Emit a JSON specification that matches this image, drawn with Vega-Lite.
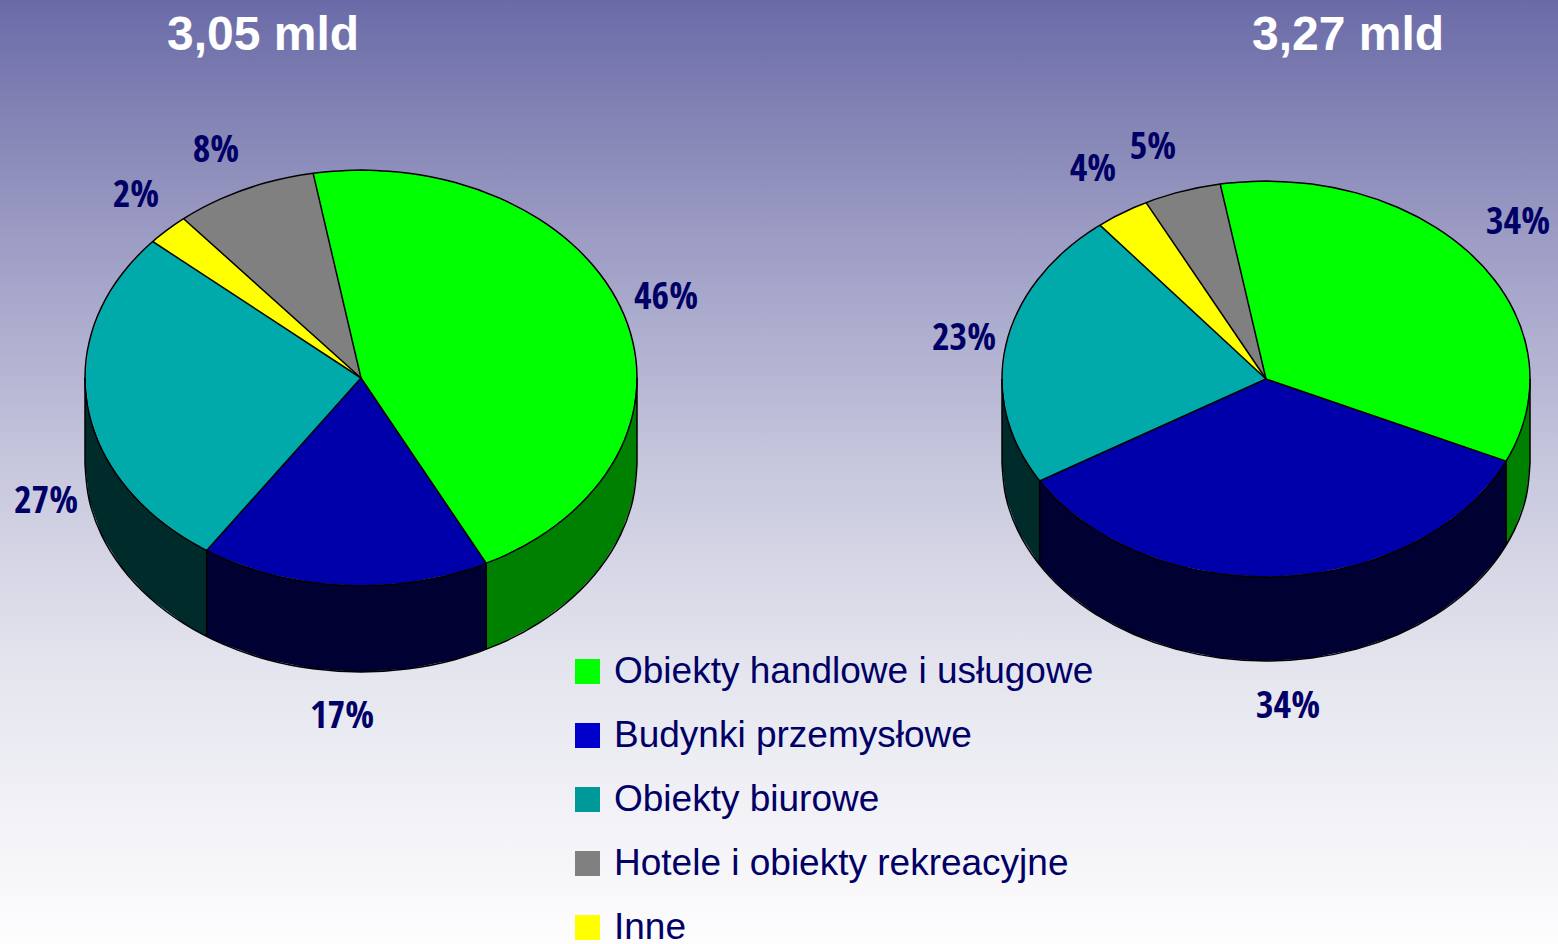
{
"$schema":"https://vega.github.io/schema/vega-lite/v6.json",
"width":1558,"height":944,"padding":0,"autosize":{"type":"none"},
"background":"#ffffff",
"config":{"view":{"stroke":null},"font":"Liberation Sans"},
"datasets":{
"frame":[{"x0":0,"x1":1558,"y0":0,"y1":944}],
"categories":[{"category":"Obiekty handlowe i usługowe"},{"category":"Budynki przemysłowe"},{"category":"Obiekty biurowe"},{"category":"Hotele i obiekty rekreacyjne"},{"category":"Inne"}],
"shares":[
{"label":"46%","x":666,"y":298},{"label":"17%","x":342,"y":717},{"label":"27%","x":46,"y":502},{"label":"8%","x":216,"y":151},{"label":"2%","x":136,"y":196},
{"label":"34%","x":1518,"y":223},{"label":"34%","x":1288,"y":707},{"label":"23%","x":964,"y":339},{"label":"5%","x":1153,"y":148},{"label":"4%","x":1093,"y":170}],
"totals":[{"label":"3,05 mld","x":263,"y":36},{"label":"3,27 mld","x":1348,"y":36}],
"edges":[
{"x":361,"y":378,"xEnd":313.1,"yEnd":173.2},{"x":361,"y":378,"xEnd":486.3,"yEnd":563.3},{"x":361,"y":378,"xEnd":206.7,"yEnd":550.4},{"x":361,"y":378,"xEnd":152.7,"yEnd":241.5},{"x":361,"y":378,"xEnd":183.6,"yEnd":218.7},
{"x":486.3,"y":563.3,"xEnd":486.3,"yEnd":649.3},{"x":206.7,"y":550.4,"xEnd":206.7,"yEnd":636.4},{"x":637,"y":378,"xEnd":637,"yEnd":464},{"x":85,"y":378,"xEnd":85,"yEnd":464},
{"x":1266,"y":379,"xEnd":1220.2,"yEnd":184},{"x":1266,"y":379,"xEnd":1506.2,"yEnd":461.1},{"x":1266,"y":379,"xEnd":1039.7,"yEnd":481},{"x":1266,"y":379,"xEnd":1099.9,"yEnd":225.1},{"x":1266,"y":379,"xEnd":1146.1,"yEnd":202.6},
{"x":1506.2,"y":461.1,"xEnd":1506.2,"yEnd":545.1},{"x":1039.7,"y":481,"xEnd":1039.7,"yEnd":565},{"x":1530,"y":379,"xEnd":1530,"yEnd":463},{"x":1002,"y":379,"xEnd":1002,"yEnd":463}],
"rims":[
{"rim":"at","n":1,"x":361,"y":170},{"rim":"at","n":2,"x":408.9,"y":173.2},{"rim":"at","n":3,"x":455.4,"y":182.5},{"rim":"at","n":4,"x":499,"y":197.9},{"rim":"at","n":5,"x":538.4,"y":218.7},{"rim":"at","n":6,"x":572.4,"y":244.3},{"rim":"at","n":7,"x":600,"y":274},{"rim":"at","n":8,"x":620.4,"y":306.9},{"rim":"at","n":9,"x":632.8,"y":341.9},{"rim":"at","n":10,"x":637,"y":378},{"rim":"at","n":11,"x":632.8,"y":414.1},{"rim":"at","n":12,"x":620.4,"y":449.1},{"rim":"at","n":13,"x":600,"y":482},{"rim":"at","n":14,"x":572.4,"y":511.7},{"rim":"at","n":15,"x":538.4,"y":537.3},{"rim":"at","n":16,"x":499,"y":558.1},{"rim":"at","n":17,"x":455.4,"y":573.5},{"rim":"at","n":18,"x":408.9,"y":582.8},{"rim":"at","n":19,"x":361,"y":586},{"rim":"at","n":20,"x":313.1,"y":582.8},{"rim":"at","n":21,"x":266.6,"y":573.5},{"rim":"at","n":22,"x":223,"y":558.1},{"rim":"at","n":23,"x":183.6,"y":537.3},{"rim":"at","n":24,"x":149.6,"y":511.7},{"rim":"at","n":25,"x":122,"y":482},{"rim":"at","n":26,"x":101.6,"y":449.1},{"rim":"at","n":27,"x":89.2,"y":414.1},{"rim":"at","n":28,"x":85,"y":378},{"rim":"at","n":29,"x":89.2,"y":341.9},{"rim":"at","n":30,"x":101.6,"y":306.9},{"rim":"at","n":31,"x":122,"y":274},{"rim":"at","n":32,"x":149.6,"y":244.3},{"rim":"at","n":33,"x":183.6,"y":218.7},{"rim":"at","n":34,"x":223,"y":197.9},{"rim":"at","n":35,"x":266.6,"y":182.5},{"rim":"at","n":36,"x":313.1,"y":173.2},{"rim":"at","n":37,"x":361,"y":170},
{"rim":"ab","n":1,"x":637,"y":464},{"rim":"ab","n":2,"x":632.8,"y":500.1},{"rim":"ab","n":3,"x":620.4,"y":535.1},{"rim":"ab","n":4,"x":600,"y":568},{"rim":"ab","n":5,"x":572.4,"y":597.7},{"rim":"ab","n":6,"x":538.4,"y":623.3},{"rim":"ab","n":7,"x":499,"y":644.1},{"rim":"ab","n":8,"x":455.4,"y":659.5},{"rim":"ab","n":9,"x":408.9,"y":668.8},{"rim":"ab","n":10,"x":361,"y":672},{"rim":"ab","n":11,"x":313.1,"y":668.8},{"rim":"ab","n":12,"x":266.6,"y":659.5},{"rim":"ab","n":13,"x":223,"y":644.1},{"rim":"ab","n":14,"x":183.6,"y":623.3},{"rim":"ab","n":15,"x":149.6,"y":597.7},{"rim":"ab","n":16,"x":122,"y":568},{"rim":"ab","n":17,"x":101.6,"y":535.1},{"rim":"ab","n":18,"x":89.2,"y":500.1},{"rim":"ab","n":19,"x":85,"y":464},
{"rim":"bt","n":1,"x":1266,"y":181},{"rim":"bt","n":2,"x":1311.8,"y":184},{"rim":"bt","n":3,"x":1356.3,"y":192.9},{"rim":"bt","n":4,"x":1398,"y":207.5},{"rim":"bt","n":5,"x":1435.7,"y":227.3},{"rim":"bt","n":6,"x":1468.2,"y":251.7},{"rim":"bt","n":7,"x":1494.6,"y":280},{"rim":"bt","n":8,"x":1514.1,"y":311.3},{"rim":"bt","n":9,"x":1526,"y":344.6},{"rim":"bt","n":10,"x":1530,"y":379},{"rim":"bt","n":11,"x":1526,"y":413.4},{"rim":"bt","n":12,"x":1514.1,"y":446.7},{"rim":"bt","n":13,"x":1494.6,"y":478},{"rim":"bt","n":14,"x":1468.2,"y":506.3},{"rim":"bt","n":15,"x":1435.7,"y":530.7},{"rim":"bt","n":16,"x":1398,"y":550.5},{"rim":"bt","n":17,"x":1356.3,"y":565.1},{"rim":"bt","n":18,"x":1311.8,"y":574},{"rim":"bt","n":19,"x":1266,"y":577},{"rim":"bt","n":20,"x":1220.2,"y":574},{"rim":"bt","n":21,"x":1175.7,"y":565.1},{"rim":"bt","n":22,"x":1134,"y":550.5},{"rim":"bt","n":23,"x":1096.3,"y":530.7},{"rim":"bt","n":24,"x":1063.8,"y":506.3},{"rim":"bt","n":25,"x":1037.4,"y":478},{"rim":"bt","n":26,"x":1017.9,"y":446.7},{"rim":"bt","n":27,"x":1006,"y":413.4},{"rim":"bt","n":28,"x":1002,"y":379},{"rim":"bt","n":29,"x":1006,"y":344.6},{"rim":"bt","n":30,"x":1017.9,"y":311.3},{"rim":"bt","n":31,"x":1037.4,"y":280},{"rim":"bt","n":32,"x":1063.8,"y":251.7},{"rim":"bt","n":33,"x":1096.3,"y":227.3},{"rim":"bt","n":34,"x":1134,"y":207.5},{"rim":"bt","n":35,"x":1175.7,"y":192.9},{"rim":"bt","n":36,"x":1220.2,"y":184},{"rim":"bt","n":37,"x":1266,"y":181},
{"rim":"bb","n":1,"x":1530,"y":463},{"rim":"bb","n":2,"x":1526,"y":497.4},{"rim":"bb","n":3,"x":1514.1,"y":530.7},{"rim":"bb","n":4,"x":1494.6,"y":562},{"rim":"bb","n":5,"x":1468.2,"y":590.3},{"rim":"bb","n":6,"x":1435.7,"y":614.7},{"rim":"bb","n":7,"x":1398,"y":634.5},{"rim":"bb","n":8,"x":1356.3,"y":649.1},{"rim":"bb","n":9,"x":1311.8,"y":658},{"rim":"bb","n":10,"x":1266,"y":661},{"rim":"bb","n":11,"x":1220.2,"y":658},{"rim":"bb","n":12,"x":1175.7,"y":649.1},{"rim":"bb","n":13,"x":1134,"y":634.5},{"rim":"bb","n":14,"x":1096.3,"y":614.7},{"rim":"bb","n":15,"x":1063.8,"y":590.3},{"rim":"bb","n":16,"x":1037.4,"y":562},{"rim":"bb","n":17,"x":1017.9,"y":530.7},{"rim":"bb","n":18,"x":1006,"y":497.4},{"rim":"bb","n":19,"x":1002,"y":463}
],
"outlines":[
{"slice":"a1","part":"handel bok","n":1,"x":637,"y":378},{"slice":"a1","part":"handel bok","n":2,"x":632.8,"y":414.1},{"slice":"a1","part":"handel bok","n":3,"x":620.4,"y":449.1},{"slice":"a1","part":"handel bok","n":4,"x":600,"y":482},{"slice":"a1","part":"handel bok","n":5,"x":572.4,"y":511.7},{"slice":"a1","part":"handel bok","n":6,"x":538.4,"y":537.3},{"slice":"a1","part":"handel bok","n":7,"x":499,"y":558.1},{"slice":"a1","part":"handel bok","n":8,"x":486.3,"y":563.3},{"slice":"a1","part":"handel bok","n":9,"x":486.3,"y":649.3},{"slice":"a1","part":"handel bok","n":10,"x":499,"y":644.1},{"slice":"a1","part":"handel bok","n":11,"x":538.4,"y":623.3},{"slice":"a1","part":"handel bok","n":12,"x":572.4,"y":597.7},{"slice":"a1","part":"handel bok","n":13,"x":600,"y":568},{"slice":"a1","part":"handel bok","n":14,"x":620.4,"y":535.1},{"slice":"a1","part":"handel bok","n":15,"x":632.8,"y":500.1},{"slice":"a1","part":"handel bok","n":16,"x":637,"y":464},{"slice":"a1","part":"handel bok","n":17,"x":637,"y":378},
{"slice":"a2","part":"przemysl bok","n":1,"x":486.3,"y":563.3},{"slice":"a2","part":"przemysl bok","n":2,"x":455.4,"y":573.5},{"slice":"a2","part":"przemysl bok","n":3,"x":408.9,"y":582.8},{"slice":"a2","part":"przemysl bok","n":4,"x":361,"y":586},{"slice":"a2","part":"przemysl bok","n":5,"x":313.1,"y":582.8},{"slice":"a2","part":"przemysl bok","n":6,"x":266.6,"y":573.5},{"slice":"a2","part":"przemysl bok","n":7,"x":223,"y":558.1},{"slice":"a2","part":"przemysl bok","n":8,"x":206.7,"y":550.4},{"slice":"a2","part":"przemysl bok","n":9,"x":206.7,"y":636.4},{"slice":"a2","part":"przemysl bok","n":10,"x":223,"y":644.1},{"slice":"a2","part":"przemysl bok","n":11,"x":266.6,"y":659.5},{"slice":"a2","part":"przemysl bok","n":12,"x":313.1,"y":668.8},{"slice":"a2","part":"przemysl bok","n":13,"x":361,"y":672},{"slice":"a2","part":"przemysl bok","n":14,"x":408.9,"y":668.8},{"slice":"a2","part":"przemysl bok","n":15,"x":455.4,"y":659.5},{"slice":"a2","part":"przemysl bok","n":16,"x":486.3,"y":649.3},{"slice":"a2","part":"przemysl bok","n":17,"x":486.3,"y":563.3},
{"slice":"a3","part":"biura bok","n":1,"x":206.7,"y":550.4},{"slice":"a3","part":"biura bok","n":2,"x":183.6,"y":537.3},{"slice":"a3","part":"biura bok","n":3,"x":149.6,"y":511.7},{"slice":"a3","part":"biura bok","n":4,"x":122,"y":482},{"slice":"a3","part":"biura bok","n":5,"x":101.6,"y":449.1},{"slice":"a3","part":"biura bok","n":6,"x":89.2,"y":414.1},{"slice":"a3","part":"biura bok","n":7,"x":85,"y":378},{"slice":"a3","part":"biura bok","n":8,"x":85,"y":464},{"slice":"a3","part":"biura bok","n":9,"x":89.2,"y":500.1},{"slice":"a3","part":"biura bok","n":10,"x":101.6,"y":535.1},{"slice":"a3","part":"biura bok","n":11,"x":122,"y":568},{"slice":"a3","part":"biura bok","n":12,"x":149.6,"y":597.7},{"slice":"a3","part":"biura bok","n":13,"x":183.6,"y":623.3},{"slice":"a3","part":"biura bok","n":14,"x":206.7,"y":636.4},{"slice":"a3","part":"biura bok","n":15,"x":206.7,"y":550.4},
{"slice":"a4","part":"handel","n":1,"x":361,"y":378},{"slice":"a4","part":"handel","n":2,"x":313.1,"y":173.2},{"slice":"a4","part":"handel","n":3,"x":361,"y":170},{"slice":"a4","part":"handel","n":4,"x":408.9,"y":173.2},{"slice":"a4","part":"handel","n":5,"x":455.4,"y":182.5},{"slice":"a4","part":"handel","n":6,"x":499,"y":197.9},{"slice":"a4","part":"handel","n":7,"x":538.4,"y":218.7},{"slice":"a4","part":"handel","n":8,"x":572.4,"y":244.3},{"slice":"a4","part":"handel","n":9,"x":600,"y":274},{"slice":"a4","part":"handel","n":10,"x":620.4,"y":306.9},{"slice":"a4","part":"handel","n":11,"x":632.8,"y":341.9},{"slice":"a4","part":"handel","n":12,"x":637,"y":378},{"slice":"a4","part":"handel","n":13,"x":632.8,"y":414.1},{"slice":"a4","part":"handel","n":14,"x":620.4,"y":449.1},{"slice":"a4","part":"handel","n":15,"x":600,"y":482},{"slice":"a4","part":"handel","n":16,"x":572.4,"y":511.7},{"slice":"a4","part":"handel","n":17,"x":538.4,"y":537.3},{"slice":"a4","part":"handel","n":18,"x":499,"y":558.1},{"slice":"a4","part":"handel","n":19,"x":486.3,"y":563.3},{"slice":"a4","part":"handel","n":20,"x":361,"y":378},
{"slice":"a5","part":"przemysl","n":1,"x":361,"y":378},{"slice":"a5","part":"przemysl","n":2,"x":486.3,"y":563.3},{"slice":"a5","part":"przemysl","n":3,"x":455.4,"y":573.5},{"slice":"a5","part":"przemysl","n":4,"x":408.9,"y":582.8},{"slice":"a5","part":"przemysl","n":5,"x":361,"y":586},{"slice":"a5","part":"przemysl","n":6,"x":313.1,"y":582.8},{"slice":"a5","part":"przemysl","n":7,"x":266.6,"y":573.5},{"slice":"a5","part":"przemysl","n":8,"x":223,"y":558.1},{"slice":"a5","part":"przemysl","n":9,"x":206.7,"y":550.4},{"slice":"a5","part":"przemysl","n":10,"x":361,"y":378},
{"slice":"a6","part":"biura","n":1,"x":361,"y":378},{"slice":"a6","part":"biura","n":2,"x":206.7,"y":550.4},{"slice":"a6","part":"biura","n":3,"x":183.6,"y":537.3},{"slice":"a6","part":"biura","n":4,"x":149.6,"y":511.7},{"slice":"a6","part":"biura","n":5,"x":122,"y":482},{"slice":"a6","part":"biura","n":6,"x":101.6,"y":449.1},{"slice":"a6","part":"biura","n":7,"x":89.2,"y":414.1},{"slice":"a6","part":"biura","n":8,"x":85,"y":378},{"slice":"a6","part":"biura","n":9,"x":89.2,"y":341.9},{"slice":"a6","part":"biura","n":10,"x":101.6,"y":306.9},{"slice":"a6","part":"biura","n":11,"x":122,"y":274},{"slice":"a6","part":"biura","n":12,"x":149.6,"y":244.3},{"slice":"a6","part":"biura","n":13,"x":152.7,"y":241.5},{"slice":"a6","part":"biura","n":14,"x":361,"y":378},
{"slice":"a7","part":"inne","n":1,"x":361,"y":378},{"slice":"a7","part":"inne","n":2,"x":152.7,"y":241.5},{"slice":"a7","part":"inne","n":3,"x":183.6,"y":218.7},{"slice":"a7","part":"inne","n":4,"x":361,"y":378},
{"slice":"a8","part":"hotele","n":1,"x":361,"y":378},{"slice":"a8","part":"hotele","n":2,"x":183.6,"y":218.7},{"slice":"a8","part":"hotele","n":3,"x":223,"y":197.9},{"slice":"a8","part":"hotele","n":4,"x":266.6,"y":182.5},{"slice":"a8","part":"hotele","n":5,"x":313.1,"y":173.2},{"slice":"a8","part":"hotele","n":6,"x":361,"y":378},
{"slice":"b1","part":"handel bok","n":1,"x":1530,"y":379},{"slice":"b1","part":"handel bok","n":2,"x":1526,"y":413.4},{"slice":"b1","part":"handel bok","n":3,"x":1514.1,"y":446.7},{"slice":"b1","part":"handel bok","n":4,"x":1506.2,"y":461.1},{"slice":"b1","part":"handel bok","n":5,"x":1506.2,"y":545.1},{"slice":"b1","part":"handel bok","n":6,"x":1514.1,"y":530.7},{"slice":"b1","part":"handel bok","n":7,"x":1526,"y":497.4},{"slice":"b1","part":"handel bok","n":8,"x":1530,"y":463},{"slice":"b1","part":"handel bok","n":9,"x":1530,"y":379},
{"slice":"b2","part":"przemysl bok","n":1,"x":1506.2,"y":461.1},{"slice":"b2","part":"przemysl bok","n":2,"x":1494.6,"y":478},{"slice":"b2","part":"przemysl bok","n":3,"x":1468.2,"y":506.3},{"slice":"b2","part":"przemysl bok","n":4,"x":1435.7,"y":530.7},{"slice":"b2","part":"przemysl bok","n":5,"x":1398,"y":550.5},{"slice":"b2","part":"przemysl bok","n":6,"x":1356.3,"y":565.1},{"slice":"b2","part":"przemysl bok","n":7,"x":1311.8,"y":574},{"slice":"b2","part":"przemysl bok","n":8,"x":1266,"y":577},{"slice":"b2","part":"przemysl bok","n":9,"x":1220.2,"y":574},{"slice":"b2","part":"przemysl bok","n":10,"x":1175.7,"y":565.1},{"slice":"b2","part":"przemysl bok","n":11,"x":1134,"y":550.5},{"slice":"b2","part":"przemysl bok","n":12,"x":1096.3,"y":530.7},{"slice":"b2","part":"przemysl bok","n":13,"x":1063.8,"y":506.3},{"slice":"b2","part":"przemysl bok","n":14,"x":1039.7,"y":481},{"slice":"b2","part":"przemysl bok","n":15,"x":1039.7,"y":565},{"slice":"b2","part":"przemysl bok","n":16,"x":1063.8,"y":590.3},{"slice":"b2","part":"przemysl bok","n":17,"x":1096.3,"y":614.7},{"slice":"b2","part":"przemysl bok","n":18,"x":1134,"y":634.5},{"slice":"b2","part":"przemysl bok","n":19,"x":1175.7,"y":649.1},{"slice":"b2","part":"przemysl bok","n":20,"x":1220.2,"y":658},{"slice":"b2","part":"przemysl bok","n":21,"x":1266,"y":661},{"slice":"b2","part":"przemysl bok","n":22,"x":1311.8,"y":658},{"slice":"b2","part":"przemysl bok","n":23,"x":1356.3,"y":649.1},{"slice":"b2","part":"przemysl bok","n":24,"x":1398,"y":634.5},{"slice":"b2","part":"przemysl bok","n":25,"x":1435.7,"y":614.7},{"slice":"b2","part":"przemysl bok","n":26,"x":1468.2,"y":590.3},{"slice":"b2","part":"przemysl bok","n":27,"x":1494.6,"y":562},{"slice":"b2","part":"przemysl bok","n":28,"x":1506.2,"y":545.1},{"slice":"b2","part":"przemysl bok","n":29,"x":1506.2,"y":461.1},
{"slice":"b3","part":"biura bok","n":1,"x":1039.7,"y":481},{"slice":"b3","part":"biura bok","n":2,"x":1017.9,"y":446.7},{"slice":"b3","part":"biura bok","n":3,"x":1006,"y":413.4},{"slice":"b3","part":"biura bok","n":4,"x":1002,"y":379},{"slice":"b3","part":"biura bok","n":5,"x":1002,"y":463},{"slice":"b3","part":"biura bok","n":6,"x":1006,"y":497.4},{"slice":"b3","part":"biura bok","n":7,"x":1017.9,"y":530.7},{"slice":"b3","part":"biura bok","n":8,"x":1039.7,"y":565},{"slice":"b3","part":"biura bok","n":9,"x":1039.7,"y":481},
{"slice":"b4","part":"handel","n":1,"x":1266,"y":379},{"slice":"b4","part":"handel","n":2,"x":1220.2,"y":184},{"slice":"b4","part":"handel","n":3,"x":1266,"y":181},{"slice":"b4","part":"handel","n":4,"x":1311.8,"y":184},{"slice":"b4","part":"handel","n":5,"x":1356.3,"y":192.9},{"slice":"b4","part":"handel","n":6,"x":1398,"y":207.5},{"slice":"b4","part":"handel","n":7,"x":1435.7,"y":227.3},{"slice":"b4","part":"handel","n":8,"x":1468.2,"y":251.7},{"slice":"b4","part":"handel","n":9,"x":1494.6,"y":280},{"slice":"b4","part":"handel","n":10,"x":1514.1,"y":311.3},{"slice":"b4","part":"handel","n":11,"x":1526,"y":344.6},{"slice":"b4","part":"handel","n":12,"x":1530,"y":379},{"slice":"b4","part":"handel","n":13,"x":1526,"y":413.4},{"slice":"b4","part":"handel","n":14,"x":1514.1,"y":446.7},{"slice":"b4","part":"handel","n":15,"x":1506.2,"y":461.1},{"slice":"b4","part":"handel","n":16,"x":1266,"y":379},
{"slice":"b5","part":"przemysl","n":1,"x":1266,"y":379},{"slice":"b5","part":"przemysl","n":2,"x":1506.2,"y":461.1},{"slice":"b5","part":"przemysl","n":3,"x":1494.6,"y":478},{"slice":"b5","part":"przemysl","n":4,"x":1468.2,"y":506.3},{"slice":"b5","part":"przemysl","n":5,"x":1435.7,"y":530.7},{"slice":"b5","part":"przemysl","n":6,"x":1398,"y":550.5},{"slice":"b5","part":"przemysl","n":7,"x":1356.3,"y":565.1},{"slice":"b5","part":"przemysl","n":8,"x":1311.8,"y":574},{"slice":"b5","part":"przemysl","n":9,"x":1266,"y":577},{"slice":"b5","part":"przemysl","n":10,"x":1220.2,"y":574},{"slice":"b5","part":"przemysl","n":11,"x":1175.7,"y":565.1},{"slice":"b5","part":"przemysl","n":12,"x":1134,"y":550.5},{"slice":"b5","part":"przemysl","n":13,"x":1096.3,"y":530.7},{"slice":"b5","part":"przemysl","n":14,"x":1063.8,"y":506.3},{"slice":"b5","part":"przemysl","n":15,"x":1039.7,"y":481},{"slice":"b5","part":"przemysl","n":16,"x":1266,"y":379},
{"slice":"b6","part":"biura","n":1,"x":1266,"y":379},{"slice":"b6","part":"biura","n":2,"x":1039.7,"y":481},{"slice":"b6","part":"biura","n":3,"x":1017.9,"y":446.7},{"slice":"b6","part":"biura","n":4,"x":1006,"y":413.4},{"slice":"b6","part":"biura","n":5,"x":1002,"y":379},{"slice":"b6","part":"biura","n":6,"x":1006,"y":344.6},{"slice":"b6","part":"biura","n":7,"x":1017.9,"y":311.3},{"slice":"b6","part":"biura","n":8,"x":1037.4,"y":280},{"slice":"b6","part":"biura","n":9,"x":1063.8,"y":251.7},{"slice":"b6","part":"biura","n":10,"x":1096.3,"y":227.3},{"slice":"b6","part":"biura","n":11,"x":1099.9,"y":225.1},{"slice":"b6","part":"biura","n":12,"x":1266,"y":379},
{"slice":"b7","part":"inne","n":1,"x":1266,"y":379},{"slice":"b7","part":"inne","n":2,"x":1099.9,"y":225.1},{"slice":"b7","part":"inne","n":3,"x":1134,"y":207.5},{"slice":"b7","part":"inne","n":4,"x":1146.1,"y":202.6},{"slice":"b7","part":"inne","n":5,"x":1266,"y":379},
{"slice":"b8","part":"hotele","n":1,"x":1266,"y":379},{"slice":"b8","part":"hotele","n":2,"x":1146.1,"y":202.6},{"slice":"b8","part":"hotele","n":3,"x":1175.7,"y":192.9},{"slice":"b8","part":"hotele","n":4,"x":1220.2,"y":184},{"slice":"b8","part":"hotele","n":5,"x":1266,"y":379}
]},
"layer":[
{"data":{"name":"frame"},
 "mark":{"type":"rect","fill":{"gradient":"linear","x1":0,"y1":0,"x2":0,"y2":1,"stops":[{"offset":0,"color":"#6a6aa8"},{"offset":0.13,"color":"#8585b6"},{"offset":0.3,"color":"#a5a5ca"},{"offset":0.5,"color":"#c8c8de"},{"offset":0.7,"color":"#e4e4ee"},{"offset":1,"color":"#fdfdfe"}]}},
 "encoding":{"x":{"field":"x0","type":"quantitative","scale":{"domain":[0,1558],"nice":false,"zero":false},"axis":null},"x2":{"field":"x1"},"y":{"field":"y0","type":"quantitative","scale":{"domain":[944,0],"nice":false,"zero":false},"axis":null},"y2":{"field":"y1"}}},
{"data":{"name":"outlines"},
 "mark":{"type":"line","strokeWidth":0,"interpolate":"linear"},
 "encoding":{"x":{"field":"x","type":"quantitative","axis":null},"y":{"field":"y","type":"quantitative","axis":null},"order":{"field":"n","type":"quantitative"},"detail":{"field":"slice"},
 "fill":{"field":"part","type":"nominal","legend":null,"scale":{"domain":["handel","przemysl","biura","hotele","inne","handel bok","przemysl bok","biura bok"],"range":["#00ff00","#0000aa","#00aaaa","#808080","#ffff00","#008000","#000033","#002b2b"]}}}},
{"data":{"name":"rims"},
 "mark":{"type":"line","stroke":"#000000","strokeWidth":1.5,"interpolate":"cardinal"},
 "encoding":{"x":{"field":"x","type":"quantitative","axis":null},"y":{"field":"y","type":"quantitative","axis":null},"order":{"field":"n","type":"quantitative"},"detail":{"field":"rim"}}},
{"data":{"name":"edges"},
 "mark":{"type":"rule","stroke":"#000000","strokeWidth":1.5},
 "encoding":{"x":{"field":"x","type":"quantitative","axis":null},"y":{"field":"y","type":"quantitative","axis":null},"x2":{"field":"xEnd"},"y2":{"field":"yEnd"}}},
{"data":{"name":"categories"},
 "mark":{"type":"square","size":0,"opacity":1,"filled":true},
 "encoding":{"color":{"field":"category","type":"nominal","scale":{"domain":["Obiekty handlowe i usługowe","Budynki przemysłowe","Obiekty biurowe","Hotele i obiekty rekreacyjne","Inne"],"range":["#00ff00","#0000cc","#009999","#808080","#ffff00"]},
 "legend":{"title":null,"orient":"none","legendX":569,"legendY":653,"padding":0,"symbolType":"square","symbolSize":625,"symbolStrokeWidth":0,"labelFont":"Liberation Sans","labelFontSize":37,"labelColor":"#000066","labelLimit":700,"labelOffset":8,"rowPadding":26}}}},
{"data":{"name":"shares"},
 "mark":{"type":"text","font":"Noto Sans Condensed, Open Sans Condensed, Roboto Condensed, DejaVu Sans Condensed, sans-serif","fontWeight":"bold","fontSize":38,"color":"#000066","align":"center","baseline":"middle"},
 "encoding":{"x":{"field":"x","type":"quantitative","axis":null},"y":{"field":"y","type":"quantitative","axis":null},"text":{"field":"label"}}},
{"data":{"name":"totals"},
 "mark":{"type":"text","font":"Liberation Sans","fontWeight":"bold","fontSize":48,"color":"#ffffff","align":"center","baseline":"middle"},
 "encoding":{"x":{"field":"x","type":"quantitative","axis":null},"y":{"field":"y","type":"quantitative","axis":null},"text":{"field":"label"}}}
]
}
